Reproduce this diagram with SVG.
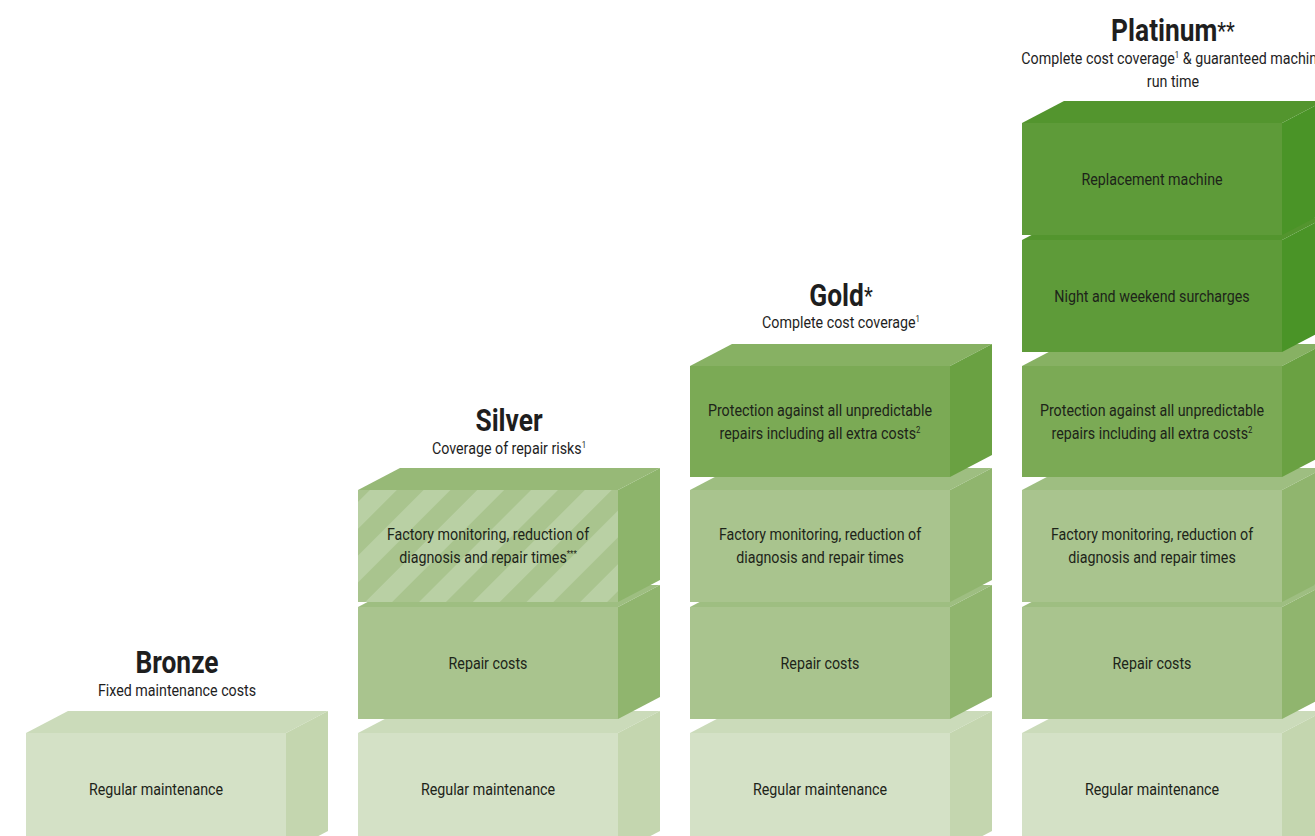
<svg xmlns="http://www.w3.org/2000/svg" width="1315" height="836" viewBox="0 0 1315 836">
<defs>
<pattern id="hatch" patternUnits="userSpaceOnUse" width="38" height="38" patternTransform="rotate(45)">
<rect width="38" height="38" fill="#a9c48e"/>
<rect width="19" height="38" fill="#b9d0a4"/>
</pattern>
<style>
text{font-family:"Roboto","Liberation Sans",sans-serif;fill:#1e1e1e;text-anchor:middle}
.title{font-size:31px;font-weight:700}
.sub{font-size:16.5px}
.lbl{font-size:16.5px;fill:#1d2419}
.reg .f{fill:#d4e1c6}.reg .t{fill:#cbdbba}.reg .s{fill:#c4d6af}
.med .f{fill:#a9c48e}.med .t{fill:#9ebe81}.med .s{fill:#90b56e}
.hat .f{fill:url(#hatch)}.hat .t{fill:#97b977}.hat .s{fill:#8db46b}
.pro .f{fill:#7baa55}.pro .t{fill:#87b163}.pro .s{fill:#6aa142}
.dark .f{fill:#5e9b39}.dark .t{fill:#53952e}.dark .s{fill:#4a9427}
</style>
</defs>
<rect width="1315" height="836" fill="#ffffff"/>
<g id="connectors"/>

<!-- Bronze -->
<g id="bronze-header">
<text class="title" transform="translate(177,673) scale(0.85,1)">Bronze</text>
<text class="sub" transform="translate(177,696) scale(0.865,1)">Fixed maintenance costs</text>
</g>
<g id="bronze-regular" class="reg">
<polygon class="t" points="26,733 68,711 328,711 286,733"/>
<polygon class="s" points="286,733 328,711 328,831 286,853"/>
<rect class="f" x="26" y="733" width="260" height="120"/>
<text class="lbl" transform="translate(156,795) scale(0.865,1)">Regular maintenance</text>
</g>

<!-- Silver -->
<g id="silver-header">
<text class="title" transform="translate(509,431) scale(0.85,1)">Silver</text>
<text class="sub" transform="translate(509,454) scale(0.865,1)">Coverage of repair risks<tspan font-size="9" dy="-6">1</tspan></text>
</g>
<g id="silver-regular" class="reg">
<polygon class="t" points="358,733 400,711 660,711 618,733"/>
<polygon class="s" points="618,733 660,711 660,831 618,853"/>
<rect class="f" x="358" y="733" width="260" height="120"/>
<text class="lbl" transform="translate(488,795) scale(0.865,1)">Regular maintenance</text>
</g>
<g id="silver-repair" class="med">
<polygon class="t" points="358,607 400,585 660,585 618,607"/>
<polygon class="s" points="618,607 660,585 660,697 618,719"/>
<rect class="f" x="358" y="607" width="260" height="112"/>
<text class="lbl" transform="translate(488,669) scale(0.865,1)">Repair costs</text>
</g>
<g id="silver-factory" class="hat">
<polygon class="t" points="358,490 400,468 660,468 618,490"/>
<polygon class="s" points="618,490 660,468 660,580 618,602"/>
<rect class="f" x="358" y="490" width="260" height="112"/>
<text class="lbl" transform="translate(488,540) scale(0.865,1)">Factory monitoring, reduction of</text>
<text class="lbl" transform="translate(488,563) scale(0.865,1)">diagnosis and repair times<tspan font-size="9" dy="-6">***</tspan></text>
</g>

<!-- Gold -->
<g id="gold-header">
<text class="title" transform="translate(841,306) scale(0.85,1)">Gold<tspan font-weight="400" font-size="24" dy="-2">*</tspan></text>
<text class="sub" transform="translate(841,328) scale(0.865,1)">Complete cost coverage<tspan font-size="9" dy="-6">1</tspan></text>
</g>
<g id="gold-regular" class="reg">
<polygon class="t" points="690,733 732,711 992,711 950,733"/>
<polygon class="s" points="950,733 992,711 992,831 950,853"/>
<rect class="f" x="690" y="733" width="260" height="120"/>
<text class="lbl" transform="translate(820,795) scale(0.865,1)">Regular maintenance</text>
</g>
<g id="gold-repair" class="med">
<polygon class="t" points="690,607 732,585 992,585 950,607"/>
<polygon class="s" points="950,607 992,585 992,697 950,719"/>
<rect class="f" x="690" y="607" width="260" height="112"/>
<text class="lbl" transform="translate(820,669) scale(0.865,1)">Repair costs</text>
</g>
<g id="gold-factory" class="med">
<polygon class="t" points="690,490 732,468 992,468 950,490"/>
<polygon class="s" points="950,490 992,468 992,580 950,602"/>
<rect class="f" x="690" y="490" width="260" height="112"/>
<text class="lbl" transform="translate(820,540) scale(0.865,1)">Factory monitoring, reduction of</text>
<text class="lbl" transform="translate(820,563) scale(0.865,1)">diagnosis and repair times</text>
</g>
<g id="gold-protection" class="pro">
<polygon class="t" points="690,366 732,344 992,344 950,366"/>
<polygon class="s" points="950,366 992,344 992,455 950,477"/>
<rect class="f" x="690" y="366" width="260" height="111"/>
<text class="lbl" transform="translate(820,416) scale(0.865,1)">Protection against all unpredictable</text>
<text class="lbl" transform="translate(820,439) scale(0.865,1)">repairs including all extra costs<tspan font-size="9" dy="-6">2</tspan></text>
</g>

<!-- Platinum -->
<g id="platinum-header">
<text class="title" transform="translate(1173,41) scale(0.85,1)">Platinum<tspan font-weight="400" font-size="24" dy="-2">**</tspan></text>
<text class="sub" transform="translate(1173,64) scale(0.865,1)">Complete cost coverage<tspan font-size="9" dy="-6">1</tspan><tspan dy="6"> &amp; guaranteed machine</tspan></text>
<text class="sub" transform="translate(1173,87) scale(0.865,1)">run time</text>
</g>
<g id="platinum-regular" class="reg">
<polygon class="t" points="1022,733 1064,711 1324,711 1282,733"/>
<polygon class="s" points="1282,733 1324,711 1324,831 1282,853"/>
<rect class="f" x="1022" y="733" width="260" height="120"/>
<text class="lbl" transform="translate(1152,795) scale(0.865,1)">Regular maintenance</text>
</g>
<g id="platinum-repair" class="med">
<polygon class="t" points="1022,607 1064,585 1324,585 1282,607"/>
<polygon class="s" points="1282,607 1324,585 1324,697 1282,719"/>
<rect class="f" x="1022" y="607" width="260" height="112"/>
<text class="lbl" transform="translate(1152,669) scale(0.865,1)">Repair costs</text>
</g>
<g id="platinum-factory" class="med">
<polygon class="t" points="1022,490 1064,468 1324,468 1282,490"/>
<polygon class="s" points="1282,490 1324,468 1324,580 1282,602"/>
<rect class="f" x="1022" y="490" width="260" height="112"/>
<text class="lbl" transform="translate(1152,540) scale(0.865,1)">Factory monitoring, reduction of</text>
<text class="lbl" transform="translate(1152,563) scale(0.865,1)">diagnosis and repair times</text>
</g>
<g id="platinum-protection" class="pro">
<polygon class="t" points="1022,366 1064,344 1324,344 1282,366"/>
<polygon class="s" points="1282,366 1324,344 1324,455 1282,477"/>
<rect class="f" x="1022" y="366" width="260" height="111"/>
<text class="lbl" transform="translate(1152,416) scale(0.865,1)">Protection against all unpredictable</text>
<text class="lbl" transform="translate(1152,439) scale(0.865,1)">repairs including all extra costs<tspan font-size="9" dy="-6">2</tspan></text>
</g>
<g id="platinum-night" class="dark">
<polygon class="t" points="1022,240 1064,218 1324,218 1282,240"/>
<polygon class="s" points="1282,240 1324,218 1324,330 1282,352"/>
<rect class="f" x="1022" y="240" width="260" height="112"/>
<text class="lbl" transform="translate(1152,302) scale(0.865,1)">Night and weekend surcharges</text>
</g>
<g id="platinum-replacement" class="dark">
<polygon class="t" points="1022,123 1064,101 1324,101 1282,123"/>
<polygon class="s" points="1282,123 1324,101 1324,213 1282,235"/>
<rect class="f" x="1022" y="123" width="260" height="112"/>
<text class="lbl" transform="translate(1152,185) scale(0.865,1)">Replacement machine</text>
</g>
</svg>
